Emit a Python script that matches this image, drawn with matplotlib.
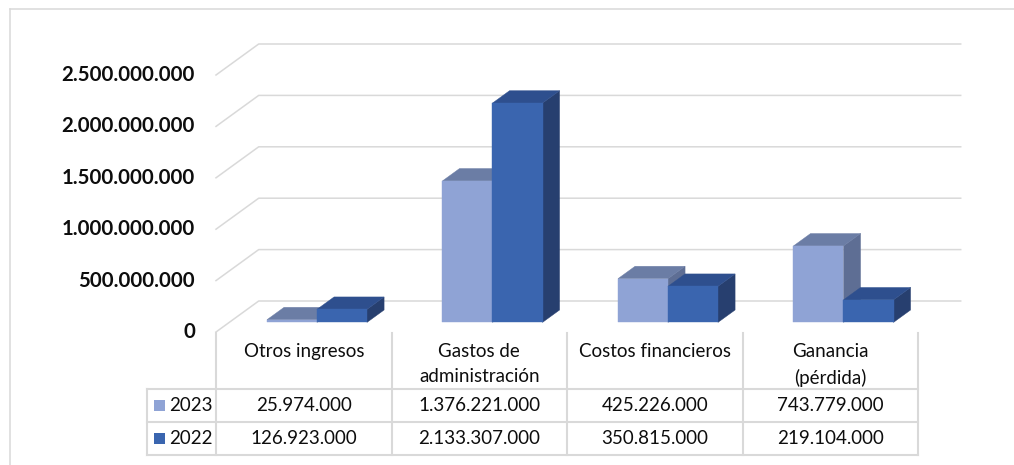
import matplotlib
matplotlib.use("Agg")
import matplotlib.pyplot as plt
from matplotlib.patches import Polygon, Rectangle
from matplotlib.lines import Line2D
from matplotlib.transforms import IdentityTransform

categories = ["Otros ingresos", "Gastos de\nadministración", "Costos financieros", "Ganancia\n(pérdida)"]
series_names = ["2023", "2022"]
values_2023 = [25974000, 1376221000, 425226000, 743779000]
values_2022 = [126923000, 2133307000, 350815000, 219104000]
y_ticks = [0, 500000000, 1000000000, 1500000000, 2000000000, 2500000000]
y_tick_labels = ["0", "500.000.000", "1.000.000.000", "1.500.000.000", "2.000.000.000", "2.500.000.000"]

W, H = 1014, 465
FRONT = [("#8FA3D5", "#6B7DA5", "#5E6E94"),   # 2023: front, top, side
         ("#3A65AF", "#2E4F8E", "#273F6F")]   # 2022
GRID = "#D9D9D9"
TXT = "#0D0D0D"
DEPTH = (42.7, 31.0)       # floor depth vector in pixels
BAR_D0, BAR_D1 = 0.31, 0.71
BAR_W = 0.285

plt.rcParams["font.family"] = ["Lato", "DejaVu Sans"]

fig = plt.figure(figsize=(W / 100, H / 100), dpi=100)
ax = fig.add_axes([216 / W, (H - 332) / H, (918 - 216) / W, 257 / H])
ax.set_xlim(-0.5, 3.5)
ax.set_ylim(0, 2500000000)
ax.axis("off")
ident = IdentityTransform()


def pt(x, v, d):
    X, Y = ax.transData.transform((x, v))
    return (X + DEPTH[0] * d, Y + DEPTH[1] * d)


def top(y):
    # pixel row counted from the top of the figure -> display y
    return H - y


# chart area border
fig.add_artist(Line2D([10, W], [top(9), top(9)], transform=ident, color=GRID, lw=1.1))
fig.add_artist(Line2D([10, 10], [top(9), 0], transform=ident, color=GRID, lw=1.1))

# back wall gridlines with the side-wall diagonal
for v, lab in zip(y_ticks, y_tick_labels):
    p0, p1, p2 = pt(-0.5, v, 0), pt(-0.5, v, 1), pt(3.5, v, 1)
    ax.add_line(Line2D([p0[0], p1[0], p2[0]], [p0[1], p1[1], p2[1]], transform=ident,
                       color=GRID, lw=1.1, clip_on=False, zorder=1))
    ax.text(p0[0] - 21, p0[1], lab, transform=ident, ha="right", va="center",
            fontsize=14.7, fontweight="bold", color=TXT)

# 3D columns
for k in range(len(categories)):
    for s, vals in enumerate([values_2023, values_2022]):
        v = vals[k]
        x0 = k - BAR_W + s * BAR_W
        x1 = x0 + BAR_W
        front_c, top_c, side_c = FRONT[s]
        z = 3 + k * 2 + s
        face = [pt(x0, 0, BAR_D0), pt(x1, 0, BAR_D0), pt(x1, v, BAR_D0), pt(x0, v, BAR_D0)]
        lid = [pt(x0, v, BAR_D0), pt(x1, v, BAR_D0), pt(x1, v, BAR_D1), pt(x0, v, BAR_D1)]
        side = [pt(x1, 0, BAR_D0), pt(x1, 0, BAR_D1), pt(x1, v, BAR_D1), pt(x1, v, BAR_D0)]
        for poly, col in [(side, side_c), (lid, top_c), (face, front_c)]:
            ax.add_patch(Polygon(poly, closed=True, transform=ident, facecolor=col,
                                 edgecolor=col, lw=0.3, clip_on=False, zorder=z))

# data table under the plot
bounds = [pt(k - 0.5, 0, 0)[0] for k in range(len(categories) + 1)]
y_head_top, y_head_bot = top(333), top(389)
row_h = 33
y_rows = [y_head_bot, y_head_bot - row_h, y_head_bot - 2 * row_h]
x_leg = bounds[0] - 69
lw_t = 1.5

for x in bounds:
    fig.add_artist(Line2D([x, x], [y_head_top, y_rows[-1]], transform=ident, color=GRID, lw=lw_t))
fig.add_artist(Line2D([x_leg, x_leg], [y_rows[0], y_rows[-1]], transform=ident, color=GRID, lw=lw_t))
for y in y_rows:
    fig.add_artist(Line2D([x_leg, bounds[-1]], [y, y], transform=ident, color=GRID, lw=lw_t))

for k, name in enumerate(categories):
    cx = (bounds[k] + bounds[k + 1]) / 2
    fig.text(cx, top(343), name, transform=ident, ha="center", va="top",
             fontsize=13.5, color=TXT, linespacing=1.6)

for s, (name, vals) in enumerate(zip(series_names, [values_2023, values_2022])):
    cy = y_rows[s] - row_h / 2
    fig.add_artist(Rectangle((x_leg + 7, cy - 5.5), 11, 11, transform=ident,
                             facecolor=FRONT[s][0], edgecolor="none"))
    fig.text(x_leg + 22, cy, name, transform=ident, ha="left", va="center",
             fontsize=13.5, color=TXT)
    for k, v in enumerate(vals):
        cx = (bounds[k] + bounds[k + 1]) / 2
        fig.text(cx, cy, f"{v:,}".replace(",", "."), transform=ident, ha="center",
                 va="center", fontsize=13.5, color=TXT)

fig.savefig("out.png", dpi=100, facecolor="white")
